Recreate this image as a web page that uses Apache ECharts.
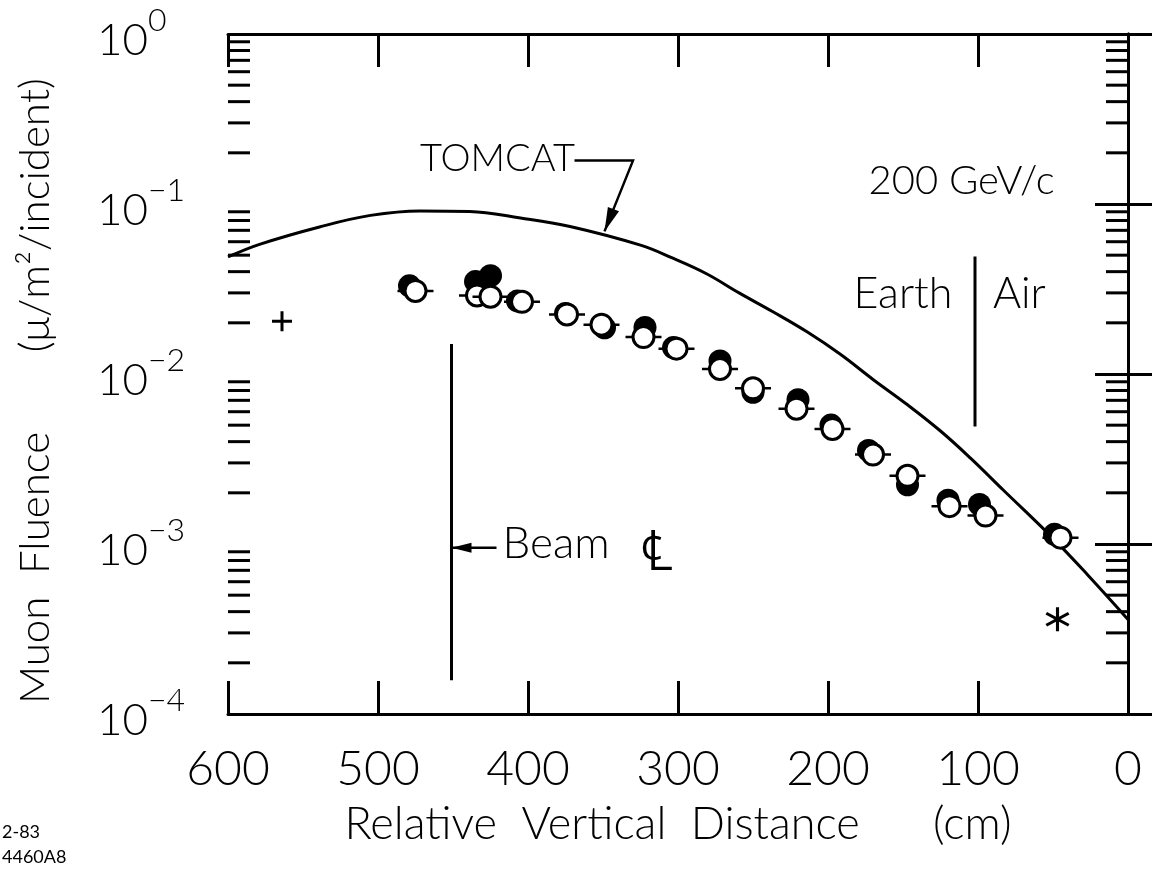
<!DOCTYPE html>
<html>
<head>
<meta charset="utf-8">
<script src="https://cdn.jsdelivr.net/npm/echarts@6/dist/echarts.min.js"></script>
<style>
  html, body { margin: 0; padding: 0; background: #fff; }
  #chart { width: 1152px; height: 870px; }
</style>
</head>
<body>
<div id="chart"></div>
<script>
// relative vertical distance (cm) vs muon fluence (mu/m^2/incident)
const X_TICKS = [600, 500, 400, 300, 200, 100, 0];
const Y_DECADES = [1e-4, 1e-3, 1e-2, 1e-1, 1];
const MINOR_MULT = [2, 3, 4, 5, 6, 7, 8, 9];

const TOMCAT = [
  [600, 0.0488], [579, 0.0579], [539, 0.0733], [505, 0.0857], [472, 0.0911],
  [439, 0.0904], [405, 0.0828], [372, 0.0738], [325, 0.0573], [303, 0.0478],
  [281, 0.0389], [259, 0.0299], [237, 0.0233], [214, 0.0177], [192, 0.0131],
  [170, 0.00929], [147, 0.00659], [125, 0.00462], [105, 0.00320], [83, 0.00207],
  [50, 0.00108], [27, 0.00066], [0, 0.00036]
];

const OPEN_PTS = [
  [475, 0.0308], [434, 0.0290], [425, 0.0285], [404, 0.0266], [374, 0.0224],
  [351, 0.0195], [323, 0.0165], [301, 0.0141], [272, 0.0107], [250, 0.00824],
  [221, 0.00625], [197, 0.00475], [170, 0.00336], [147, 0.00252], [119, 0.00167],
  [95, 0.00147], [45, 0.00109]
];

const FILLED_PTS = [
  [479, 0.0330], [435, 0.0350], [425, 0.0379], [407, 0.0269], [375, 0.0227],
  [349, 0.0187], [322, 0.0188], [303, 0.0143], [272, 0.01194], [250, 0.00781],
  [220, 0.00706], [198, 0.00501], [173, 0.00355], [147, 0.00223], [120, 0.00181],
  [99, 0.00171], [49, 0.00114]
];

const PLUS_PT = [[564, 0.0204]];
const STAR_PT = [[47, 0.000361]];
const BEAM_LINE = [[451, 0.0150], [451, 0.000158]];
const EARTH_AIR_LINE = [[102, 0.0491], [102, 0.00491]];

const FONT = "Lato, 'DejaVu Sans', sans-serif";

const minorTicks = [];
Y_DECADES.slice(0, 4).forEach((d) => MINOR_MULT.forEach((m) => minorTicks.push([600, m * d])));

const PLUS_PATH = "path://M8.5,0V20H11.5V0Z M0,8.5V11.5H20V8.5Z";
const STAR_PATH = "path://M19.26,6.04L18.06,3.96L0.74,13.96L1.94,16.04Z M18.06,16.04L19.26,13.96L1.94,3.96L0.74,6.04Z M8.8,0V20H11.2V0Z";

function yLabel(value) {
  const exp = Math.round(Math.log10(value));
  return `{a|10}{b|${exp === 0 ? "0" : "\u2212" + (-exp)}}`;
}

const axisLineStyle = { color: "#000", width: 3 };

const chart = echarts.init(document.getElementById("chart"));

const option = {
  backgroundColor: "#fff",
  animation: false,
  grid: { left: 228, right: 24, top: 34, bottom: 156 },
  xAxis: [
    {
      type: "value", min: 0, max: 600, interval: 100, inverse: true, position: "bottom",
      axisLine: { lineStyle: axisLineStyle },
      axisTick: { inside: true, length: 33, lineStyle: axisLineStyle },
      splitLine: { show: false },
      axisLabel: { color: "#000", fontSize: 48, fontWeight: 300, fontFamily: FONT, margin: 32,
        formatter: (v) => (X_TICKS.includes(v) ? String(v) : "") },
      name: "Relative  Vertical  Distance      (cm)",
      nameLocation: "middle", nameGap: 88,
      nameTextStyle: { color: "#000", fontSize: 45, fontWeight: 300, fontFamily: FONT }
    },
    {
      type: "value", min: 0, max: 600, interval: 100, inverse: true, position: "top",
      axisLine: { lineStyle: axisLineStyle },
      axisTick: { inside: true, length: 33, lineStyle: axisLineStyle },
      splitLine: { show: false },
      axisLabel: { show: false }
    }
  ],
  yAxis: [
    {
      type: "log", logBase: 10, min: 1e-4, max: 1, position: "left",
      axisLine: { show: true, lineStyle: axisLineStyle },
      axisTick: { inside: true, length: 33, lineStyle: axisLineStyle },
      splitLine: { show: false },
      axisLabel: {
        align: "left", margin: 131, formatter: yLabel,
        rich: {
          a: { fontSize: 44, fontWeight: 300, fontFamily: FONT, color: "#000", padding: [14, 0, 0, 0] },
          b: { fontSize: 32, fontWeight: 300, fontFamily: FONT, color: "#000", verticalAlign: "top" }
        }
      },
      name: "Muon  Fluence       (\u03bc/m\u00b2/incident)   ",
      nameLocation: "middle", nameGap: 172,
      nameTextStyle: { color: "#000", fontSize: 42, fontWeight: 300, fontFamily: FONT }
    },
    {
      type: "log", logBase: 10, min: 1e-4, max: 1, position: "right",
      axisLine: { show: true, lineStyle: axisLineStyle },
      axisTick: { inside: true, length: 33, lineStyle: axisLineStyle },
      splitLine: { show: false },
      axisLabel: { show: false }
    }
  ],
  series: [
    {
      name: "minor ticks", type: "custom", silent: true, clip: false,
      renderItem: (params, api) => {
        const v = api.value(1);
        const l = api.coord([600, v]);
        const r = api.coord([0, v]);
        const st = { stroke: "#000", lineWidth: 3 };
        return {
          type: "group",
          children: [
            { type: "line", shape: { x1: l[0], y1: l[1], x2: l[0] + 22, y2: l[1] }, style: st },
            { type: "line", shape: { x1: r[0], y1: r[1], x2: r[0] - 22, y2: r[1] }, style: st }
          ]
        };
      },
      data: minorTicks
    },
    {
      name: "TOMCAT", type: "line", smooth: 0.4, showSymbol: false, silent: true,
      lineStyle: { color: "#000", width: 3 },
      data: TOMCAT
    },
    {
      name: "Beam CL", type: "line", showSymbol: false, silent: true,
      lineStyle: { color: "#000", width: 3 },
      data: BEAM_LINE
    },
    {
      name: "Earth/Air", type: "line", showSymbol: false, silent: true,
      lineStyle: { color: "#000", width: 3 },
      data: EARTH_AIR_LINE
    },
    {
      name: "filled", type: "scatter", symbol: "circle", symbolSize: 23, z: 2,
      itemStyle: { color: "#000", opacity: 1 },
      data: FILLED_PTS
    },
    {
      name: "open", type: "custom", clip: false, z: 4,
      renderItem: (params, api) => {
        const p = api.coord([api.value(0), api.value(1)]);
        return {
          type: "group",
          children: [
            { type: "line", shape: { x1: p[0] - 18, y1: p[1], x2: p[0] + 18, y2: p[1] },
              style: { stroke: "#000", lineWidth: 2.5 } },
            { type: "circle", shape: { cx: p[0], cy: p[1], r: 10.5 },
              style: { fill: "#fff", stroke: "#000", lineWidth: 3 } }
          ]
        };
      },
      data: OPEN_PTS
    },
    {
      name: "plus", type: "scatter", symbol: PLUS_PATH, symbolSize: 20,
      itemStyle: { color: "#000", opacity: 1 },
      data: PLUS_PT
    },
    {
      name: "star", type: "scatter", symbol: STAR_PATH, symbolSize: 24,
      itemStyle: { color: "#000", opacity: 1 },
      data: STAR_PT
    }
  ]
};

chart.setOption(option);

// annotations anchored in data coordinates
const NOTES = [
  { text: "TOMCAT", at: [472, 0.184], align: "left", size: 38 },
  { text: "200 GeV/c", at: [173, 0.136], align: "left", size: 40 },
  { text: "Earth", at: [117, 0.0294], align: "right", size: 43 },
  { text: "Air", at: [90, 0.0294], align: "left", size: 43 },
  { text: "Beam", at: [417, 0.00100], align: "left", size: 44 },
  { text: "\u2104", at: [325, 0.00090], align: "left", size: 56 }
];
const TOMCAT_LEADER = [[369, 0.180], [330, 0.180], [349, 0.0690]];
const BEAM_ARROW = [[421, 0.00095], [451, 0.00095]];

function toPx(p) {
  return chart.convertToPixel({ xAxisIndex: 0, yAxisIndex: 0 }, p);
}

function arrowHead(from, to, len, half) {
  const dx = to[0] - from[0];
  const dy = to[1] - from[1];
  const d = Math.hypot(dx, dy);
  const ux = dx / d, uy = dy / d;
  const bx = to[0] - ux * len, by = to[1] - uy * len;
  return [[to[0], to[1]], [bx - uy * half, by + ux * half], [bx + uy * half, by - ux * half]];
}

function buildGraphic() {
  const g = [];
  NOTES.forEach((n) => {
    const p = toPx(n.at);
    g.push({
      type: "text", x: p[0], y: p[1],
      style: { text: n.text, fill: "#000", font: `300 ${n.size}px ${FONT}`, align: n.align, verticalAlign: "middle" }
    });
  });
  const lead = TOMCAT_LEADER.map(toPx);
  g.push({ type: "polyline", shape: { points: lead }, style: { stroke: "#000", lineWidth: 2.5, fill: null } });
  g.push({ type: "polygon", shape: { points: arrowHead(lead[1], lead[2], 24, 6) }, style: { fill: "#000" } });
  const beam = BEAM_ARROW.map(toPx);
  g.push({ type: "line", shape: { x1: beam[0][0], y1: beam[0][1], x2: beam[1][0], y2: beam[1][1] },
    style: { stroke: "#000", lineWidth: 2.5 } });
  g.push({ type: "polygon", shape: { points: arrowHead(beam[0], beam[1], 20, 5) }, style: { fill: "#000" } });
  g.push({ type: "text", left: 2, top: 823, style: { text: "2-83", fill: "#000", font: `18px ${FONT}` } });
  g.push({ type: "text", left: 2, top: 848, style: { text: "4460A8", fill: "#000", font: `18px ${FONT}` } });
  return g;
}

chart.setOption({ graphic: buildGraphic() });
</script>
</body>
</html>
